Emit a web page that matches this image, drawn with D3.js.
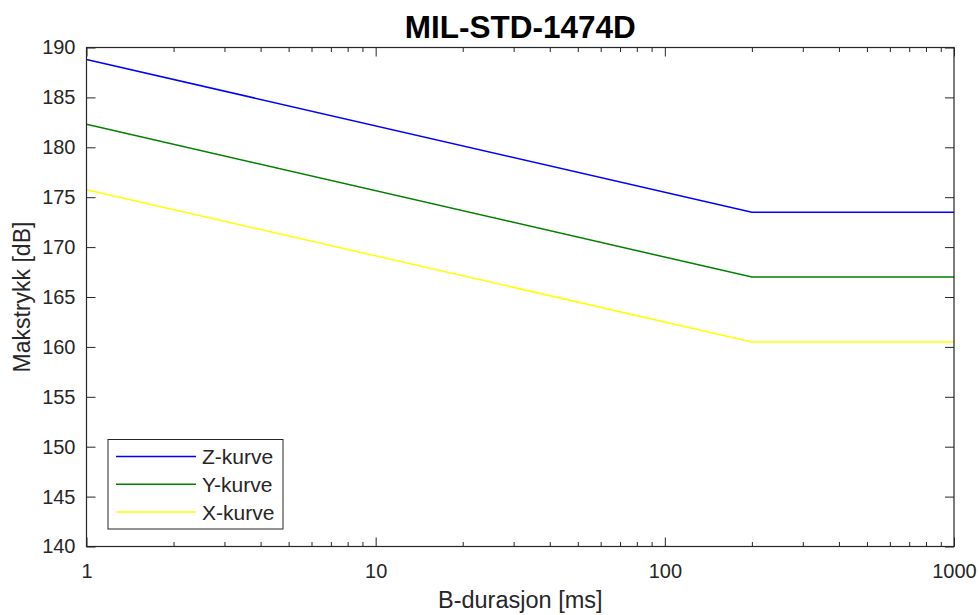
<!DOCTYPE html>
<html>
<head>
<meta charset="utf-8">
<script src="https://cdn.jsdelivr.net/npm/d3@7"></script>
<style>
  body { margin: 0; background: #fff; }
  svg text { font-family: "Liberation Sans", Arial, sans-serif; fill: #262626; }
</style>
</head>
<body>
<div id="chart"></div>
<script>
// data
const durations = [1, 200, 1000];            // B-durasjon [ms]
const zKurve = [188.8, 173.5, 173.5];
const yKurve = [182.3, 167.0, 167.0];
const xKurve = [175.75, 160.5, 160.5];
const seriesNames = ["Z-kurve", "Y-kurve", "X-kurve"];
const seriesColors = ["#0000ff", "#008000", "#ffff00"];
const xTickValues = [1, 10, 100, 1000];
const yTickValues = [140, 145, 150, 155, 160, 165, 170, 175, 180, 185, 190];

const width = 979, height = 615;
const margin = { top: 47.5, right: 25, bottom: 68.5, left: 86.5 };
const axisColor = "#262626";

const svg = d3.select("#chart").append("svg")
  .attr("width", width)
  .attr("height", height);

const x = d3.scaleLog()
  .domain([1, 1000])
  .range([margin.left, width - margin.right]);

const y = d3.scaleLinear()
  .domain([140, 190])
  .range([height - margin.bottom, margin.top]);

// lines
const series = [zKurve, yKurve, xKurve];
const line = d3.line()
  .x((d, i) => x(durations[i]))
  .y(d => y(d));

svg.append("g")
  .selectAll("path")
  .data(series)
  .join("path")
  .attr("d", d => line(d))
  .attr("fill", "none")
  .attr("stroke", (d, i) => seriesColors[i])
  .attr("stroke-width", 1.5);

// minor ticks on log axis
const minorTicks = [];
[1, 10, 100].forEach(dec => {
  for (let k = 2; k <= 9; k++) minorTicks.push(dec * k);
});

function styleAxis(g) {
  g.select(".domain").remove();
  g.selectAll(".tick line").attr("stroke", axisColor);
  g.selectAll(".tick text").attr("font-size", 20).attr("fill", axisColor);
}

// bottom axis (ticks point inward)
svg.append("g")
  .attr("transform", `translate(0,${height - margin.bottom})`)
  .call(d3.axisBottom(x).tickValues(xTickValues).tickFormat(d3.format("d"))
    .tickSizeInner(-9).tickSizeOuter(0).tickPadding(17))
  .call(styleAxis);

svg.append("g")
  .attr("transform", `translate(0,${height - margin.bottom})`)
  .call(d3.axisBottom(x).tickValues(minorTicks).tickFormat("")
    .tickSizeInner(-4.5).tickSizeOuter(0))
  .call(styleAxis);

// top axis
svg.append("g")
  .attr("transform", `translate(0,${margin.top})`)
  .call(d3.axisTop(x).tickValues(xTickValues).tickFormat("")
    .tickSizeInner(-9).tickSizeOuter(0))
  .call(styleAxis);

svg.append("g")
  .attr("transform", `translate(0,${margin.top})`)
  .call(d3.axisTop(x).tickValues(minorTicks).tickFormat("")
    .tickSizeInner(-4.5).tickSizeOuter(0))
  .call(styleAxis);

// left axis
svg.append("g")
  .attr("transform", `translate(${margin.left},0)`)
  .call(d3.axisLeft(y).tickValues(yTickValues)
    .tickSizeInner(-9).tickSizeOuter(0).tickPadding(11))
  .call(styleAxis);

// right axis
svg.append("g")
  .attr("transform", `translate(${width - margin.right},0)`)
  .call(d3.axisRight(y).tickValues(yTickValues).tickFormat("")
    .tickSizeInner(-9).tickSizeOuter(0))
  .call(styleAxis);

// box
svg.append("rect")
  .attr("x", margin.left)
  .attr("y", margin.top)
  .attr("width", width - margin.left - margin.right)
  .attr("height", height - margin.top - margin.bottom)
  .attr("fill", "none")
  .attr("stroke", axisColor)
  .attr("stroke-width", 1.2);

// title and axis labels
svg.append("text")
  .attr("x", (margin.left + width - margin.right) / 2)
  .attr("y", 37.5)
  .attr("text-anchor", "middle")
  .attr("font-size", 31.5)
  .attr("font-weight", "bold")
  .style("fill", "#000")
  .text("MIL-STD-1474D");

svg.append("text")
  .attr("x", (margin.left + width - margin.right) / 2)
  .attr("y", 608)
  .attr("text-anchor", "middle")
  .attr("font-size", 23.5)
  .text("B-durasjon [ms]");

svg.append("text")
  .attr("transform", `translate(30,${(margin.top + height - margin.bottom) / 2}) rotate(-90)`)
  .attr("text-anchor", "middle")
  .attr("font-size", 23)
  .text("Makstrykk [dB]");

// legend
const legend = svg.append("g").attr("transform", "translate(108,439.5)");
legend.append("rect")
  .attr("width", 175)
  .attr("height", 89.5)
  .attr("fill", "#fff")
  .attr("stroke", axisColor)
  .attr("stroke-width", 1);

seriesNames.forEach((name, i) => {
  const cy = 17 + i * 27.8;
  legend.append("line")
    .attr("x1", 8).attr("x2", 88)
    .attr("y1", cy).attr("y2", cy)
    .attr("stroke", seriesColors[i])
    .attr("stroke-width", 1.5);
  legend.append("text")
    .attr("x", 94)
    .attr("y", cy + 7.5)
    .attr("font-size", 21)
    .text(name);
});
</script>
</body>
</html>
